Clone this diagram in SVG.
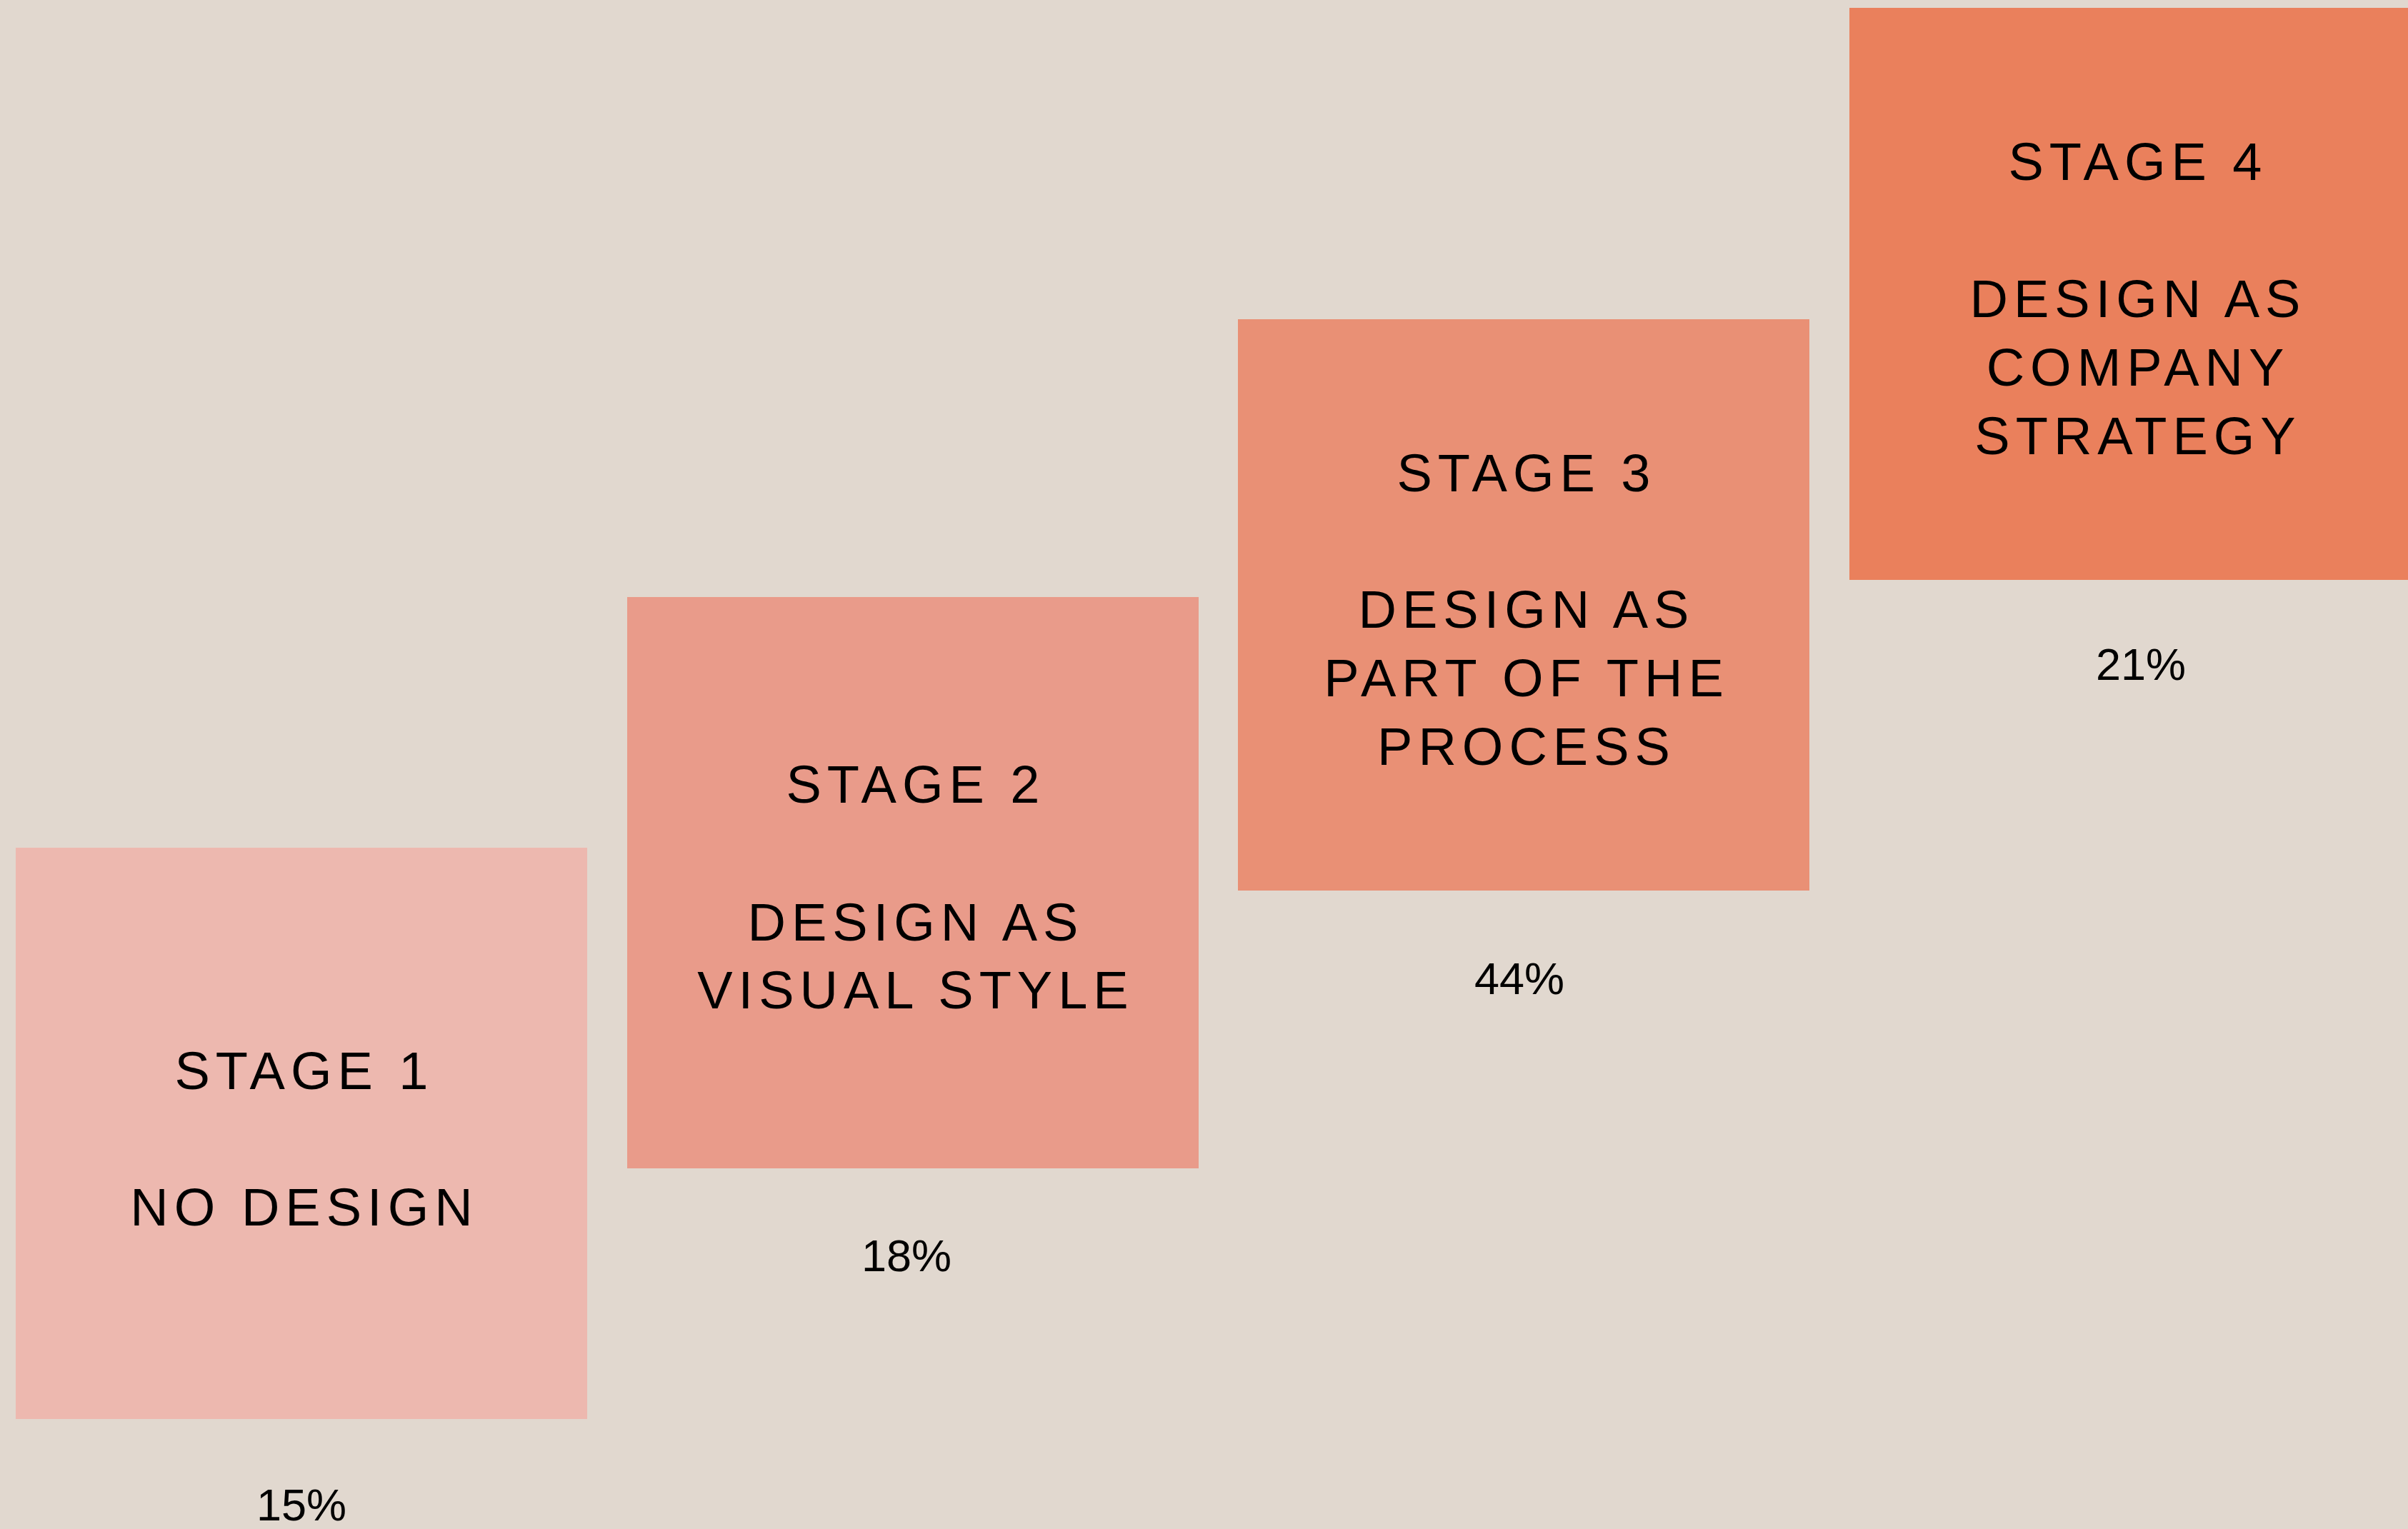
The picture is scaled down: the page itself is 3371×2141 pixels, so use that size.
<svg xmlns="http://www.w3.org/2000/svg" width="3371" height="2141" viewBox="0 0 3371 2141">
<style>
.bg{fill:#E1D8CF}
.lbl{font-family:"Liberation Sans",Arial,sans-serif;font-size:74px;letter-spacing:8px;fill:#000;text-anchor:middle}
.pct{font-family:"Liberation Sans",Arial,sans-serif;font-size:63px;fill:#000;text-anchor:middle}
</style>
<rect class="bg" x="0" y="0" width="3371" height="2141"/>
<g id="stage1">
<rect x="22" y="1187" width="800" height="800" fill="#EDB8AF"/>
<text class="lbl" x="426" y="1525">STAGE 1</text>
<text class="lbl" x="426" y="1716">NO DESIGN</text>
<text class="pct" x="422" y="2129">15%</text>
</g>
<g id="stage2">
<rect x="878" y="836" width="800" height="800" fill="#E99B8A"/>
<text class="lbl" x="1282" y="1124">STAGE 2</text>
<text class="lbl" x="1282" y="1317">DESIGN AS</text>
<text class="lbl" x="1282" y="1412">VISUAL STYLE</text>
<text class="pct" x="1269" y="1780">18%</text>
</g>
<g id="stage3">
<rect x="1733" y="447" width="800" height="800" fill="#E99075"/>
<text class="lbl" x="2137" y="688">STAGE 3</text>
<text class="lbl" x="2137" y="879">DESIGN AS</text>
<text class="lbl" x="2137" y="975">PART OF THE</text>
<text class="lbl" x="2137" y="1071">PROCESS</text>
<text class="pct" x="2127" y="1392">44%</text>
</g>
<g id="stage4">
<rect x="2589" y="11" width="800" height="801" fill="#EA805C"/>
<text class="lbl" x="2993" y="252">STAGE 4</text>
<text class="lbl" x="2993" y="444">DESIGN AS</text>
<text class="lbl" x="2993" y="540">COMPANY</text>
<text class="lbl" x="2993" y="636">STRATEGY</text>
<text class="pct" x="2997" y="952">21%</text>
</g>
<g id="connectors"/>
</svg>
